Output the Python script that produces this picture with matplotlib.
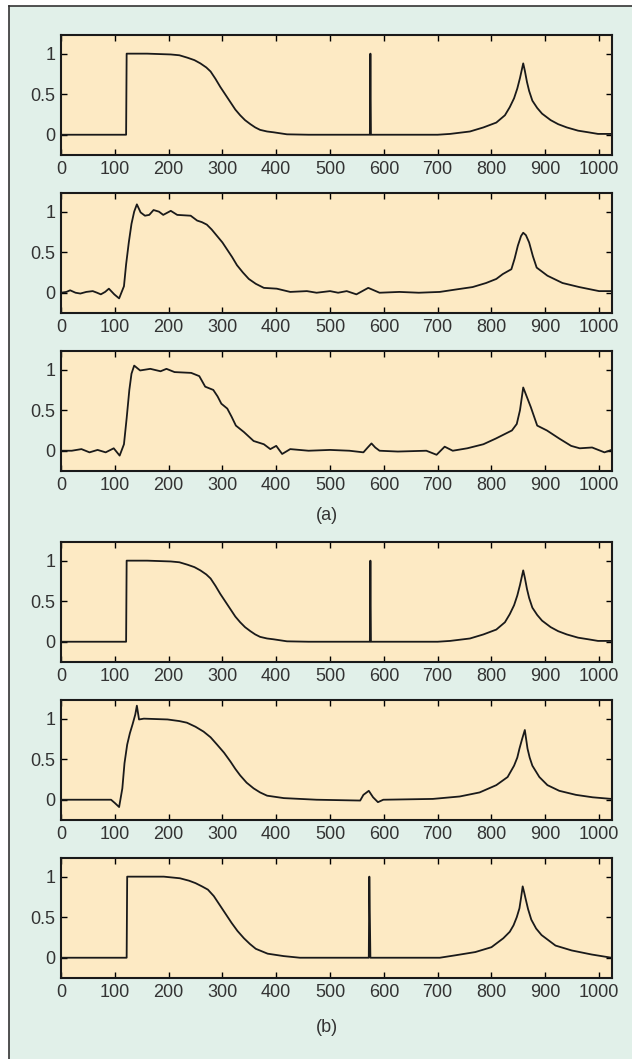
import numpy as np
import matplotlib
matplotlib.use("Agg")
import matplotlib.pyplot as plt
from matplotlib.patches import Rectangle
from matplotlib.lines import Line2D

plt.rcParams["font.family"] = ["Liberation Sans", "DejaVu Sans"]

# original signal (panels 1 and 4)
orig_x = [0, 121, 122, 160, 204, 220, 235, 248, 259, 270, 278, 287, 296, 306, 315, 324, 333,
          342, 352, 361, 370, 383, 395, 410, 420, 460, 574, 575, 576, 700, 723, 760, 785,
          809, 825, 834, 842, 848, 853, 856, 859, 862, 866, 870, 876, 885, 894, 910, 924,
          940, 961, 980, 998, 1023]
orig_y = [0, 0, 1.0, 1.0, 0.99, 0.98, 0.95, 0.92, 0.88, 0.83, 0.78, 0.69, 0.59, 0.49, 0.40,
          0.31, 0.24, 0.18, 0.13, 0.09, 0.06, 0.04, 0.03, 0.015, 0.005, 0, 0, 1.0, 0, 0,
          0.01, 0.04, 0.09, 0.15, 0.24, 0.34, 0.45, 0.57, 0.70, 0.79, 0.88, 0.79, 0.65,
          0.54, 0.42, 0.33, 0.26, 0.18, 0.13, 0.09, 0.05, 0.03, 0.01, 0.01]

# (a) second panel
a2_x = [0, 10, 17, 27, 36, 47, 59, 67, 74, 82, 89, 99, 108, 117, 121, 126, 131, 136, 141,
        148, 156, 164, 172, 182, 190, 204, 216, 241, 253, 262, 271, 280, 290, 300, 309,
        318, 327, 338, 349, 362, 377, 401, 426, 457, 475, 500, 515, 531, 549, 571, 592,
        629, 665, 704, 734, 765, 790, 809, 821, 837, 843, 849, 855, 859, 864, 870, 877,
        884, 904, 932, 963, 1000, 1023]
a2_y = [0, 0.01, 0.03, 0.0, -0.01, 0.01, 0.02, 0.0, -0.02, 0.01, 0.05, -0.02, -0.07, 0.08,
        0.35, 0.62, 0.85, 1.0, 1.09, 0.99, 0.95, 0.96, 1.02, 1.0, 0.96, 1.01, 0.96, 0.95,
        0.89, 0.87, 0.84, 0.78, 0.70, 0.62, 0.53, 0.44, 0.34, 0.25, 0.17, 0.11, 0.06, 0.05,
        0.01, 0.02, 0, 0.02, 0.0, 0.02, -0.02, 0.06, 0, 0.01, 0.0, 0.01, 0.04, 0.07, 0.12,
        0.17, 0.23, 0.29, 0.42, 0.58, 0.70, 0.74, 0.71, 0.62, 0.45, 0.31, 0.21, 0.12, 0.07,
        0.02, 0.02]

# (a) third panel
a3_x = [0, 20, 38, 53, 68, 83, 98, 109, 117, 122, 127, 131, 136, 147, 166, 185, 196, 211,
        242, 257, 268, 283, 291, 298, 309, 317, 325, 340, 358, 377, 389, 400, 411, 426,
        460, 500, 536, 562, 570, 577, 584, 592, 626, 679, 698, 713, 728, 755, 785, 808,
        838, 847, 853, 859, 866, 873, 885, 903, 926, 948, 964, 987, 1010, 1023]
a3_y = [0, 0.0, 0.02, -0.02, 0.01, -0.02, 0.03, -0.06, 0.08, 0.40, 0.75, 0.95, 1.05, 0.99,
        1.01, 0.98, 1.01, 0.97, 0.96, 0.92, 0.79, 0.75, 0.67, 0.58, 0.52, 0.42, 0.31, 0.23,
        0.12, 0.08, 0.02, 0.06, -0.04, 0.02, 0, 0.01, 0, -0.02, 0.04, 0.09, 0.04, 0, -0.01,
        0, -0.05, 0.05, 0, 0.03, 0.08, 0.15, 0.25, 0.33, 0.50, 0.78, 0.66, 0.54, 0.31,
        0.25, 0.15, 0.06, 0.03, 0.04, -0.02, 0.01]

# (b) second panel
b2_x = [0, 93, 100, 108, 114, 118, 123, 128, 133, 138, 141, 145, 154, 198, 220, 234, 250,
        265, 278, 290, 303, 315, 324, 333, 345, 358, 370, 383, 414, 475, 556, 562, 572,
        580, 589, 599, 691, 741, 778, 809, 830, 842, 848, 852, 857, 862, 867, 871, 876,
        889, 904, 926, 957, 988, 1023]
b2_y = [0, 0, -0.04, -0.09, 0.14, 0.45, 0.68, 0.82, 0.93, 1.05, 1.16, 0.99, 1.0, 0.99, 0.97,
        0.95, 0.90, 0.84, 0.77, 0.68, 0.58, 0.47, 0.38, 0.30, 0.21, 0.14, 0.09, 0.05, 0.02,
        0, -0.01, 0.06, 0.11, 0.03, -0.03, 0, 0.01, 0.04, 0.09, 0.18, 0.28, 0.42, 0.52,
        0.63, 0.75, 0.86, 0.63, 0.52, 0.42, 0.28, 0.18, 0.11, 0.06, 0.03, 0.01]

# (b) third panel
b3_x = [0, 122, 123, 191, 221, 238, 250, 262, 273, 284, 295, 306, 317, 328, 340, 351, 362,
        384, 414, 444, 572, 573, 575, 704, 733, 770, 800, 822, 834, 841, 847, 852, 855,
        858, 861, 863, 868, 874, 883, 893, 919, 949, 986, 1023]
b3_y = [0, 0, 1.0, 1.0, 0.98, 0.95, 0.92, 0.88, 0.84, 0.76, 0.65, 0.54, 0.43, 0.33, 0.24,
        0.17, 0.11, 0.05, 0.02, 0, 0, 1.0, 0, 0, 0.03, 0.07, 0.13, 0.24, 0.32, 0.40, 0.50,
        0.61, 0.74, 0.88, 0.80, 0.74, 0.60, 0.47, 0.36, 0.28, 0.15, 0.09, 0.04, 0]

xticks = list(range(0, 1001, 100))
yticks = [0, 0.5, 1]
ytick_labels = ["0", "0.5", "1"]

panels = [(orig_x, orig_y), (a2_x, a2_y), (a3_x, a3_y),
          (orig_x, orig_y), (b2_x, b2_y), (b3_x, b3_y)]
tops = [35, 193, 351, 542, 700, 858]

W, H = 632, 1059
fig = plt.figure(figsize=(W / 100, H / 100), dpi=100, facecolor="white")

bg = "#e1f0e9"
face = "#fdeac4"
fig.patches.append(Rectangle((9 / W, 0), 1 - 9 / W, 1 - 6 / H, transform=fig.transFigure,
                             facecolor=bg, edgecolor="none", zorder=-10))
fig.lines.append(Line2D([9 / W, 9 / W], [0, 1 - 6 / H], transform=fig.transFigure,
                        color="#333333", lw=1.2))
fig.lines.append(Line2D([9 / W, 1], [1 - 6 / H, 1 - 6 / H], transform=fig.transFigure,
                        color="#333333", lw=1.2))

left = 61 / W
width = 551 / W
height = 120 / H
for (xs, ys), top in zip(panels, tops):
    ax = fig.add_axes([left, 1 - (top + 120) / H, width, height])
    ax.set_facecolor(face)
    ax.plot(xs, ys, color="#1a1a1a", lw=1.3)
    ax.set_xlim(0, 1024)
    ax.set_ylim(-0.25, 1.23)
    ax.set_xticks(xticks)
    ax.set_yticks(yticks)
    ax.set_yticklabels(ytick_labels)
    ax.tick_params(direction="in", length=4, width=1, top=True, right=True,
                   labelsize=13, labelcolor="#333333", pad=4)
    for s in ax.spines.values():
        s.set_linewidth(1.5)
        s.set_color("#1a1a1a")

fig.text(327 / W, 1 - 515 / H, "(a)", ha="center", va="center", fontsize=13, color="#333333")
fig.text(327 / W, 1 - 1027 / H, "(b)", ha="center", va="center", fontsize=13, color="#333333")

fig.savefig("out.png", dpi=100, facecolor=fig.get_facecolor())
